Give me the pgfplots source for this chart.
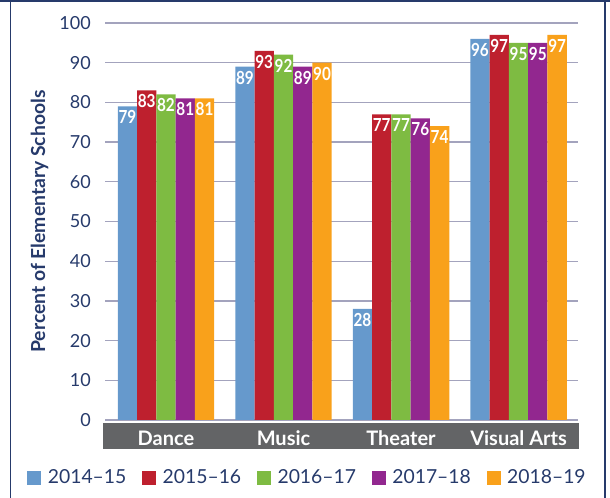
\documentclass[border=0pt]{standalone}
\usepackage{pgfplots}
\pgfplotsset{compat=1.18}
\usepackage{fontspec}
\setmainfont{Lato}
\newfontfamily\condfont[FakeStretch=0.85]{Lato}
\definecolor{cblue}{HTML}{6699CC}
\definecolor{cred}{HTML}{BE202E}
\definecolor{cgreen}{HTML}{7EBB42}
\definecolor{cpurple}{HTML}{92278F}
\definecolor{corange}{HTML}{F9A11B}
\definecolor{navy}{HTML}{263A6B}
\definecolor{bandgray}{HTML}{636466}
\definecolor{gridc}{HTML}{A3A3BD}
\begin{document}
\begin{tikzpicture}
\useasboundingbox (0pt,0pt) rectangle (457.5pt,373.5pt);
\draw[navy, line width=1.5pt] (0pt,372.75pt) -- (457.5pt,372.75pt);
\draw[navy, line width=1.1pt] (7.875pt,0pt) -- (7.875pt,373.5pt);
\draw[navy, line width=1.1pt] (453.75pt,0pt) -- (453.75pt,373.5pt);
\fill[bandgray] (77.25pt,36.75pt) rectangle (434.25pt,56.25pt);
\begin{axis}[
  at={(78.75pt,58.5pt)}, anchor=south west,
  scale only axis,
  width=354.75pt, height=297.75pt,
  xmin=-0.519, xmax=3.506,
  ymin=0, ymax=100,
  ybar=0pt, bar width=14.47pt,
  axis line style={draw=none},
  tick style={draw=none},
  /pgf/number format/assume math mode=true,
  ymajorgrids, grid style={color=gridc, line width=1pt},
  ytick={0,10,...,100},
  yticklabel style={anchor=east, inner sep=0pt, xshift=-10.5pt, text=navy, font=\fontsize{13.5}{16}\selectfont},
  xtick={0,1,2,3},
  xticklabels={Dance,Music,Theater,Visual Arts},
  xticklabel style={anchor=base, inner sep=0pt, yshift=-15pt, text=white, font=\bfseries\fontsize{15}{17}\selectfont},
  ylabel={Percent of Elementary Schools},
  ylabel style={at={(axis description cs:-0.1385,0.5)}, anchor=center, text=navy, font=\bfseries\fontsize{14.5}{16}\selectfont},
  nodes near coords,
  every node near coord/.append style={anchor=north, inner sep=3pt, text=white, font=\condfont\bfseries\fontsize{13.5}{14}\selectfont},
  legend columns=5,
  legend style={at={(axis description cs:-0.165,-0.146)}, anchor=west, draw=none, fill=none, inner sep=0pt,
    font=\fontsize{14.5}{17}\selectfont, text=navy,
    /tikz/every even column/.append style={column sep=9.75pt}},
  legend image code/.code={\fill[#1] (0pt,-5.25pt) rectangle (10.5pt,5.25pt); \path (13.5pt,0pt);},
]
\addplot[fill=cblue, draw=none] coordinates {(0,79) (1,89) (2,28) (3,96)};
\addplot[fill=cred, draw=none] coordinates {(0,83) (1,93) (2,77) (3,97)};
\addplot[fill=cgreen, draw=none] coordinates {(0,82) (1,92) (2,77) (3,95)};
\addplot[fill=cpurple, draw=none] coordinates {(0,81) (1,89) (2,76) (3,95)};
\addplot[fill=corange, draw=none] coordinates {(0,81) (1,90) (2,74) (3,97)};
\legend{2014–15,2015–16,2016–17,2017–18,2018–19}
\end{axis}
\end{tikzpicture}
\end{document}
